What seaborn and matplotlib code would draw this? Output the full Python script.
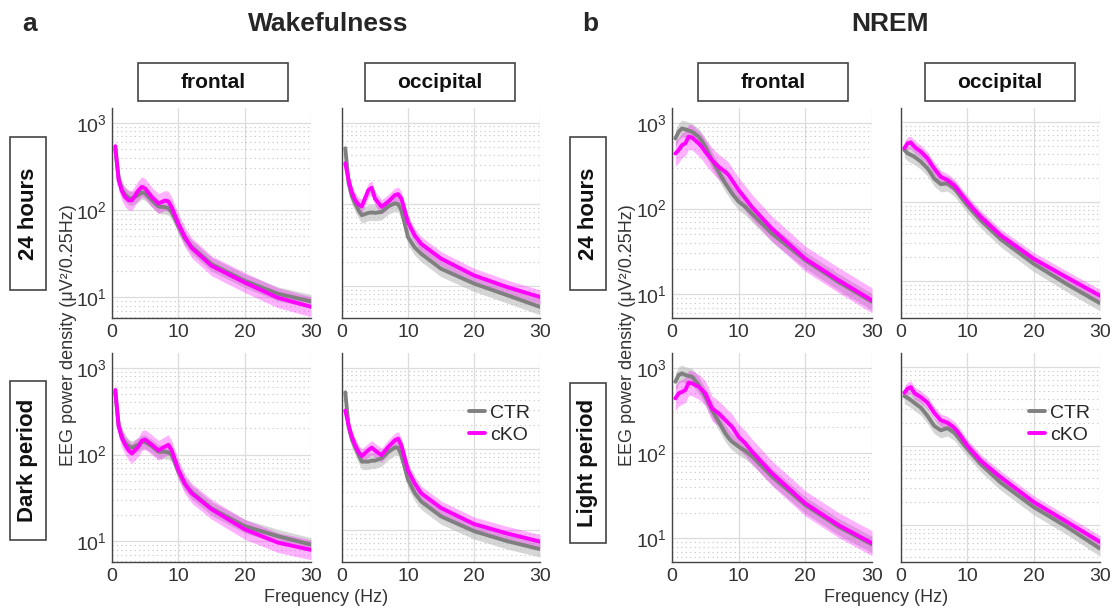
import matplotlib
matplotlib.use("Agg")
import matplotlib.pyplot as plt
from matplotlib.patches import Rectangle
import seaborn as sns
import numpy as np
import pandas as pd

# frequency bins (Hz)
freq = [0.5, 1, 1.5, 2, 2.5, 3, 4, 4.5, 5, 6, 7, 8, 8.5, 9, 10, 11, 12, 15, 20, 25, 30]

# Wakefulness, frontal, 24 hours
wake_front_24_ctr = [500, 230, 170, 150, 138, 135, 150, 160, 155, 130, 110, 108, 105, 95, 66, 47, 38, 24, 15.5, 11, 9.0]
wake_front_24_cko = [540, 220, 165, 141, 130, 129, 169, 185, 177, 141, 119, 129, 126, 108, 70, 49, 37, 23, 14.8, 9.9, 7.8]
# Wakefulness, occipital, 24 hours
wake_occ_24_ctr = [485, 181, 125, 103, 85, 74, 79, 80, 79, 81, 95, 103, 101, 85, 40, 30, 25, 16.4, 10.8, 7.8, 5.6]
wake_occ_24_cko = [318, 199, 140, 113, 100, 95, 150, 160, 118, 94, 108, 130, 134, 118, 61, 42, 33, 21.8, 13.6, 9.8, 7.4]
# Wakefulness, frontal, dark period
wake_front_dark_ctr = [520, 215, 160, 135, 125, 120, 130, 140, 140, 125, 108, 108, 106, 100, 64, 46, 37, 24, 15, 11.5, 9.2]
wake_front_dark_cko = [555, 211, 155, 130, 112, 103, 124, 145, 149, 130, 112, 124, 130, 112, 67, 46, 36, 23.5, 13.8, 9.7, 8.0]
# Wakefulness, occipital, dark period
wake_occ_dark_ctr = [496, 186, 130, 106, 85, 70, 70, 72, 72, 77, 92, 104, 104, 84, 42, 29, 22.7, 14.9, 9.8, 7.4, 5.9]
wake_occ_dark_cko = [297, 195, 140, 111, 92, 82, 97, 104, 96, 84, 106, 128, 134, 111, 55, 38, 28.7, 18.9, 12, 9.2, 7.3]
# NREM, frontal, 24 hours
nrem_front_24_ctr = [656, 785, 859, 836, 810, 785, 687, 610, 525, 367, 268, 196, 172, 150, 120, 105, 87, 51, 25, 13.9, 8.2]
nrem_front_24_cko = [438, 480, 548, 574, 687, 674, 574, 520, 458, 367, 306, 268, 245, 214, 164, 131, 104, 58, 26, 14.6, 8.5]
# NREM, occipital, 24 hours
nrem_occ_24_ctr = [451, 409, 390, 371, 345, 321, 264, 230, 197, 167, 171, 148, 132, 116, 91, 73, 59, 34, 16.6, 9.2, 5.3]
nrem_occ_24_cko = [473, 547, 558, 497, 460, 430, 354, 305, 264, 207, 188, 162, 145, 127, 100, 80, 65, 38, 19.2, 11.2, 6.6]
# NREM, frontal, light period
nrem_front_light_ctr = [685, 820, 858, 820, 800, 785, 627, 540, 457, 319, 233, 170, 150, 136, 119, 106, 92, 53, 24.6, 13.7, 8.5]
nrem_front_light_cko = [437, 500, 520, 547, 667, 655, 598, 550, 500, 333, 292, 244, 222, 204, 155, 130, 104, 58, 25.7, 14.3, 8.8]
# NREM, occipital, light period
nrem_occ_light_ctr = [432, 412, 385, 357, 332, 309, 243, 210, 182, 160, 170, 150, 134, 118, 93, 75, 60, 35, 17.1, 9.6, 5.1]
nrem_occ_light_cko = [476, 540, 561, 476, 445, 420, 357, 310, 267, 214, 200, 173, 155, 136, 102, 82, 66, 41, 19.8, 11.1, 6.2]

# approximate SEM band as multiplicative spread (CTR, cKO)
band_wake_front = (1.2, 1.3)
band_wake_occ = (1.25, 1.22)
band_nrem_front = (1.25, 1.4)
band_nrem_occ = (1.25, 1.2)

CTR_COLOR = "#808080"
CKO_COLOR = "#ff00ff"

sns.set_style("white")
plt.rcParams["font.family"] = ["Liberation Sans", "DejaVu Sans"]
plt.rcParams["mathtext.fontset"] = "custom"
plt.rcParams["mathtext.rm"] = "Liberation Sans"
plt.rcParams["mathtext.it"] = "Liberation Sans:italic"
plt.rcParams["mathtext.bf"] = "Liberation Sans:bold"

W, H = 1116, 613
fig = plt.figure(figsize=(W / 100, H / 100), dpi=100)


def fx(px):
    return px / W


def fy(py):
    return 1 - py / H


def draw_panel(rect, ctr, cko, band, ylim, show_ylabels, legend=False):
    x0, y0, x1, y1 = rect
    ax = fig.add_axes([fx(x0), fy(y1), fx(x1) - fx(x0), fy(y0) - fy(y1)])
    ax.set_yscale("log")
    ax.set_xlim(0, 30)
    ax.set_ylim(*ylim)
    ax.set_axisbelow(True)
    ax.grid(which="major", color="#dcdcdc", lw=0.9, ls="-")
    ax.grid(which="minor", axis="y", color="#c4c4c4", lw=0.8, ls=(0, (1, 3)))

    ctr_arr = np.array(ctr)
    cko_arr = np.array(cko)
    df_ctr = pd.DataFrame({"freq": freq, "power": ctr, "group": "CTR"})
    df_cko = pd.DataFrame({"freq": freq, "power": cko, "group": "cKO"})

    ax.fill_between(freq, ctr_arr / band[0], ctr_arr * band[0], color="#b5b5b5", alpha=0.55, lw=0)
    sns.lineplot(data=df_ctr, x="freq", y="power", ax=ax, color=CTR_COLOR, lw=2.8,
                 label="CTR" if legend else None, legend=False)
    ax.fill_between(freq, cko_arr / band[1], cko_arr * band[1], color=CKO_COLOR, alpha=0.3, lw=0)
    sns.lineplot(data=df_cko, x="freq", y="power", ax=ax, color=CKO_COLOR, lw=2.8,
                 label="cKO" if legend else None, legend=False)

    ax.set_xlabel("")
    ax.set_ylabel("")
    ax.set_xticks([0, 10, 20, 30])
    for s in ["top", "right"]:
        ax.spines[s].set_visible(False)
    for s in ["left", "bottom"]:
        ax.spines[s].set_color("#444444")
        ax.spines[s].set_linewidth(1.0)
    ax.tick_params(axis="both", which="major", labelsize=14, colors="#333333", length=3, width=0.8)
    ax.tick_params(axis="y", which="minor", length=2, width=0.6, colors="#444444")
    ax.tick_params(axis="x", pad=1)
    ax.tick_params(axis="y", pad=1)
    if not show_ylabels:
        ax.tick_params(axis="y", which="both", labelleft=False)
    if legend:
        leg = ax.legend(loc="upper right", bbox_to_anchor=(1.04, 0.84), frameon=False,
                        fontsize=14, handlelength=0.8, handletextpad=0.3, labelspacing=0.25)
        for line in leg.get_lines():
            line.set_linewidth(2.8)
    return ax


rows_y = [(108, 318), (353, 562)]
cols_a = [(112, 311), (342, 540)]
cols_b = [(672, 872), (901, 1100)]

ylim_wake_front = (5.8, 1480)
ylim_wake_occ = (4.1, 1510)
ylim_nrem_front = (5.3, 1485)
ylim_nrem_occ = (3.45, 1520)

# panel a
draw_panel((cols_a[0][0], rows_y[0][0], cols_a[0][1], rows_y[0][1]),
           wake_front_24_ctr, wake_front_24_cko, band_wake_front, ylim_wake_front, True)
draw_panel((cols_a[1][0], rows_y[0][0], cols_a[1][1], rows_y[0][1]),
           wake_occ_24_ctr, wake_occ_24_cko, band_wake_occ, ylim_wake_occ, False)
draw_panel((cols_a[0][0], rows_y[1][0], cols_a[0][1], rows_y[1][1]),
           wake_front_dark_ctr, wake_front_dark_cko, band_wake_front, ylim_wake_front, True)
draw_panel((cols_a[1][0], rows_y[1][0], cols_a[1][1], rows_y[1][1]),
           wake_occ_dark_ctr, wake_occ_dark_cko, band_wake_occ, ylim_wake_occ, False, legend=True)

# panel b
draw_panel((cols_b[0][0], rows_y[0][0], cols_b[0][1], rows_y[0][1]),
           nrem_front_24_ctr, nrem_front_24_cko, band_nrem_front, ylim_nrem_front, True)
draw_panel((cols_b[1][0], rows_y[0][0], cols_b[1][1], rows_y[0][1]),
           nrem_occ_24_ctr, nrem_occ_24_cko, band_nrem_occ, ylim_nrem_occ, False)
draw_panel((cols_b[0][0], rows_y[1][0], cols_b[0][1], rows_y[1][1]),
           nrem_front_light_ctr, nrem_front_light_cko, band_nrem_front, ylim_nrem_front, True)
draw_panel((cols_b[1][0], rows_y[1][0], cols_b[1][1], rows_y[1][1]),
           nrem_occ_light_ctr, nrem_occ_light_cko, band_nrem_occ, ylim_nrem_occ, False, legend=True)


def boxed_label(x0, y0, x1, y1, text, rotation=0, size=15):
    fig.patches.append(Rectangle((fx(x0), fy(y1)), fx(x1) - fx(x0), fy(y0) - fy(y1),
                                 transform=fig.transFigure, fill=False, ec="#444444", lw=1.2))
    fig.text(fx((x0 + x1) / 2), fy((y0 + y1) / 2), text, rotation=rotation, ha="center",
             va="center", fontsize=size, fontweight="bold", color="#111111")


# column strips
boxed_label(138, 63, 288, 101, "frontal")
boxed_label(365, 63, 515, 101, "occipital")
boxed_label(698, 63, 848, 101, "frontal")
boxed_label(925, 63, 1075, 101, "occipital")

# row strips
boxed_label(10, 137, 46, 290, "24 hours", rotation=90, size=16)
boxed_label(10, 381, 46, 540, "Dark period", rotation=90, size=16)
boxed_label(570, 137, 606, 290, "24 hours", rotation=90, size=16)
boxed_label(570, 383, 606, 543, "Light period", rotation=90, size=16)

# titles and panel letters
fig.text(fx(22), fy(24), "a", fontsize=19, fontweight="bold", va="center", ha="left")
fig.text(fx(328), fy(24), "Wakefulness", fontsize=19, fontweight="bold", va="center", ha="center")
fig.text(fx(582), fy(24), "b", fontsize=19, fontweight="bold", va="center", ha="left")
fig.text(fx(890), fy(24), "NREM", fontsize=19, fontweight="bold", va="center", ha="center")

# axis labels
ylab = "EEG power density (μV²/0.25Hz)"
fig.text(fx(69), fy(335), ylab, rotation=90, fontsize=13, color="#333333", ha="center", va="center")
fig.text(fx(628), fy(335), ylab, rotation=90, fontsize=13, color="#333333", ha="center", va="center")
fig.text(fx(326), fy(597), "Frequency (Hz)", fontsize=13, color="#333333", ha="center", va="center")
fig.text(fx(886), fy(597), "Frequency (Hz)", fontsize=13, color="#333333", ha="center", va="center")

fig.savefig("out.png", dpi=100)
